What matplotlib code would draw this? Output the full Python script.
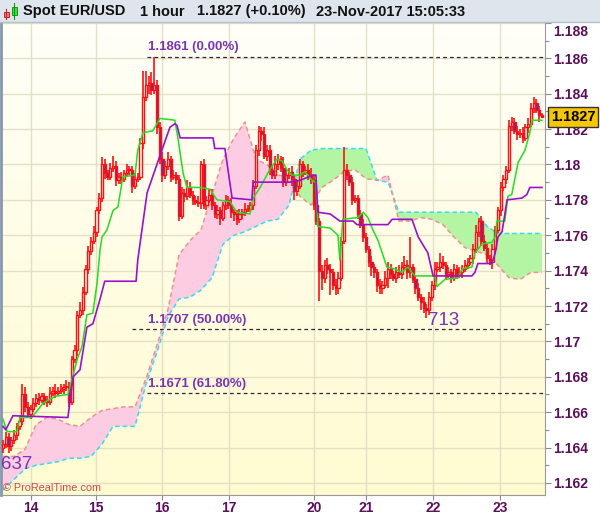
import numpy as np
import matplotlib
matplotlib.use("Agg")
import matplotlib.pyplot as plt
from matplotlib.patches import Rectangle
from matplotlib.lines import Line2D
from matplotlib.colors import LinearSegmentedColormap
from matplotlib.transforms import ScaledTranslation

plt.rcParams['font.family'] = ['Liberation Sans', 'DejaVu Sans']

# hourly closes, EUR/USD (bar 0 = 13-Nov 14:00)
first_open = 1.1640
closes = np.array([
    1.1642, 1.1646, 1.1641, 1.1644, 1.1647, 1.1652, 1.1655, 1.1670, 1.1663, 1.1659,
    1.1662, 1.1665, 1.1668, 1.1667, 1.1669, 1.1666, 1.1666, 1.1671, 1.1672, 1.1671,
    1.1672, 1.1673, 1.1674, 1.1675, 1.1666, 1.1690, 1.1695, 1.1715, 1.1718, 1.1728,
    1.1741, 1.1751, 1.1757, 1.1762, 1.1774, 1.1781, 1.1800, 1.1795, 1.1793, 1.1798,
    1.1799, 1.1791, 1.1793, 1.1792, 1.1795, 1.1797, 1.1797, 1.1788, 1.1792, 1.1793,
    1.1812, 1.1838, 1.1845, 1.1846, 1.1842, 1.1845, 1.1821, 1.1803, 1.1794, 1.1799,
    1.1803, 1.1793, 1.1794, 1.1792, 1.1771, 1.1784, 1.1782, 1.1787, 1.1783, 1.1780,
    1.1779, 1.1778, 1.1800, 1.1777, 1.1780, 1.1783, 1.1777, 1.1772, 1.1774, 1.1770,
    1.1777, 1.1780, 1.1777, 1.1773, 1.1772, 1.1769, 1.1772, 1.1773, 1.1775, 1.1775,
    1.1777, 1.1788, 1.1808, 1.1819, 1.1817, 1.1805, 1.1808, 1.1797, 1.1794, 1.1800,
    1.1803, 1.1798, 1.1790, 1.1794, 1.1796, 1.1792, 1.1785, 1.1788, 1.1800, 1.1796,
    1.1797, 1.1794, 1.1791, 1.1777, 1.1768, 1.1740, 1.1736, 1.1743, 1.1741, 1.1739,
    1.1732, 1.1730, 1.1736, 1.1757, 1.1797, 1.1794, 1.1790, 1.1780, 1.1781, 1.1772,
    1.1766, 1.1759, 1.1752, 1.1745, 1.1742, 1.1739, 1.1732, 1.1730, 1.1732, 1.1736,
    1.1741, 1.1738, 1.1736, 1.1739, 1.1738, 1.1742, 1.1743, 1.1739, 1.1742, 1.1735,
    1.1730, 1.1725, 1.1722, 1.1719, 1.1718, 1.1725, 1.1732, 1.1741, 1.1742, 1.1745,
    1.1743, 1.1738, 1.1739, 1.1736, 1.1741, 1.1738, 1.1739, 1.1741, 1.1743, 1.1745,
    1.1747, 1.1752, 1.1762, 1.1768, 1.1757, 1.1753, 1.1747, 1.1745, 1.1752, 1.1763,
    1.1774, 1.1787, 1.1792, 1.1797, 1.1822, 1.1824, 1.1819, 1.1817, 1.1818, 1.1815,
    1.1821, 1.1823, 1.1832, 1.1835, 1.1831, 1.1828, 1.1827,
])
# wick lengths in pips above the body / below the body
up_wick = np.array([
    2, 3, 2, 2, 3, 2, 3, 6, 4, 3,  2, 3, 2, 3, 2, 2, 3, 3, 2, 4,
    2, 3, 2, 3, 2, 2, 3, 2, 4, 3,  2, 3, 2, 3, 2, 3, 4, 3, 2, 3,
    6, 3, 2, 3, 2, 3, 2, 2, 3, 2,  3, 15, 8, 4, 6, 16, 3, 3, 4, 3,
    4, 2, 3, 2, 2, 3, 2, 4, 3, 2,  2, 3, 2, 3, 2, 3, 3, 2, 3, 2,
    2, 3, 2, 4, 2, 2, 3, 2, 3, 2,  2, 3, 3, 3, 2, 4, 3, 3, 2, 5,
    3, 2, 6, 3, 2, 3, 2, 3, 3, 2,  2, 3, 4, 3, 2, 2, 3, 3, 4, 3,
    2, 3, 3, 2, 13, 3, 2, 3, 2, 2, 2, 3, 2, 2, 3, 2, 2, 3, 2, 4,
    4, 3, 2, 3, 4, 3, 5, 3, 17, 2, 2, 3, 2, 3, 2, 3, 2, 4, 3, 5,
    3, 2, 3, 2, 3, 2, 3, 2, 3, 2,  2, 3, 4, 2, 3, 3, 2, 2, 3, 2,
    2, 3, 2, 2, 3, 3, 2, 3, 2, 3,  2, 3, 3, 3, 2, 2, 1,
])
dn_wick = np.array([
    3, 2, 4, 3, 2, 3, 2, 2, 3, 2,  3, 2, 2, 3, 2, 2, 3, 2, 2, 3,
    2, 2, 3, 2, 3, 2, 2, 3, 2, 3,  2, 3, 2, 2, 3, 2, 2, 3, 2, 2,
    2, 3, 2, 3, 2, 2, 3, 4, 2, 2,  2, 3, 2, 5, 3, 2, 4, 3, 4, 2,
    2, 3, 2, 3, 3, 2, 3, 2, 2, 3,  2, 2, 3, 2, 3, 2, 3, 2, 3, 4,
    2, 3, 2, 3, 4, 3, 2, 3, 2, 2,  2, 3, 2, 3, 4, 2, 3, 3, 2, 2,
    3, 2, 3, 2, 2, 4, 5, 3, 2, 3,  2, 3, 2, 3, 2, 17, 7, 3, 3, 13,
    3, 4, 3, 2, 2, 3, 2, 3, 2, 3,  2, 3, 2, 3, 5, 3, 4, 3, 3, 2,
    6, 3, 2, 3, 2, 3, 2, 4, 3, 2,  3, 2, 4, 3, 5, 3, 2, 3, 2, 3,
    2, 3, 2, 3, 2, 3, 2, 3, 2, 2,  2, 3, 2, 3, 3, 2, 3, 2, 4, 2,
    2, 3, 2, 3, 2, 3, 2, 3, 2, 3,  2, 3, 2, 3, 2, 4, 1,
])

# Ichimoku lines (bar index, price)
tenkan_x = [0, 1.5, 5, 6.2, 10.5, 14.5, 19, 23.6, 27, 28.7, 30.5, 32.7, 34.2, 35.3, 36, 37.8,
            40, 41.8, 43.6, 48, 49, 50.9, 54.5, 56, 57, 62.5, 63.6, 65.5, 66.9, 68.7, 71.6,
            75.3, 77.8, 82.5, 85, 89.8, 91, 93.5, 97, 99.6, 101.5, 103.3, 105, 108, 109.8,
            112.4, 113.8, 114.5, 119, 121.8, 122.5, 123.6, 129, 131, 132.7, 134.5, 136.4,
            139.6, 142.5, 145, 147.3, 148.7, 149.8, 157, 157.8, 160.7, 165.5, 167, 170.5,
            171.6, 174.2, 177.8, 179, 179.6, 182.5, 183.6, 185, 187.3, 189.8, 191.6, 192.4, 196]
tenkan_y = [1.1656, 1.1649, 1.1649, 1.1657, 1.1657, 1.1665, 1.1669, 1.1670, 1.1690, 1.1697,
            1.1715, 1.1716, 1.1733, 1.1752, 1.1759, 1.1763, 1.1774, 1.1776, 1.1793, 1.1794,
            1.1808, 1.1818, 1.1819, 1.1823, 1.1826, 1.1825, 1.1815, 1.1795, 1.1787, 1.1787,
            1.1787, 1.1786, 1.1780, 1.1779, 1.1773, 1.1772, 1.1781, 1.1787, 1.1797, 1.1803,
            1.1802, 1.1797, 1.1794, 1.1794, 1.1796, 1.1791, 1.1790, 1.1765, 1.1764, 1.1760,
            1.1746, 1.1769, 1.1770, 1.1773, 1.1770, 1.1763, 1.1757, 1.1742, 1.1741, 1.1739,
            1.1742, 1.1739, 1.1737, 1.1737, 1.1731, 1.1735, 1.1736, 1.1741, 1.1742, 1.1750,
            1.1755, 1.1756, 1.1759, 1.1768, 1.1768, 1.1782, 1.1783, 1.1801, 1.1808, 1.1818,
            1.1825, 1.1825]
kijun_x = [0, 1, 3.6, 23.6, 25.5, 28, 30.5, 32.7, 35.3, 37, 48.4, 49, 52.4, 55.3, 58.2, 60.7,
           62.5, 63.3, 64.4, 76.4, 77, 80.7, 83.3, 90.5, 91, 104.4, 108, 112.7, 113.8, 114.5,
           119, 122.5, 127.3, 128.7, 140, 141.5, 148.7, 151, 154.5, 156.4, 170.5, 171.6, 172.7,
           177.8, 179, 180, 181.5, 183.3, 188.7, 190.5, 191.6, 196]
kijun_y = [1.1652, 1.1650, 1.1658, 1.1657, 1.1680, 1.1684, 1.1708, 1.1710, 1.1724, 1.1734,
           1.1734, 1.1746, 1.1784, 1.1797, 1.1810, 1.1821, 1.1823, 1.1822, 1.1815, 1.1815,
           1.1809, 1.1809, 1.1781, 1.1780, 1.1790, 1.1790, 1.1791, 1.1794, 1.1794, 1.1773,
           1.1772, 1.1768, 1.1768, 1.1766, 1.1766, 1.1769, 1.1769, 1.1759, 1.1750, 1.1737,
           1.1737, 1.1739, 1.1744, 1.1744, 1.1750, 1.1759, 1.1762, 1.1780, 1.1781, 1.1783,
           1.1787, 1.1787]

# cloud, read every 4 bars
cloud_x = list(range(0, 197, 4))
span_a = [1.1616, 1.1622, 1.1628, 1.1630, 1.1631, 1.1632, 1.1634, 1.1634, 1.1635, 1.1642,
          1.1652, 1.1652, 1.1652, 1.1676, 1.1694, 1.1714, 1.1724, 1.1725, 1.1729, 1.1736,
          1.1755, 1.1760, 1.1762, 1.1765, 1.1768, 1.1769, 1.1777, 1.1803, 1.1808, 1.1809,
          1.1809, 1.1809, 1.1809, 1.1809, 1.1791, 1.1790, 1.1773, 1.1773, 1.1773, 1.1773,
          1.1773, 1.1773, 1.1773, 1.1773, 1.1765, 1.1761, 1.1761, 1.1761, 1.1761, 1.1761]
span_b = [1.1635, 1.1635, 1.1639, 1.1653, 1.1657, 1.1656, 1.1653, 1.1652, 1.1657, 1.1661,
          1.1662, 1.1663, 1.1663, 1.1679, 1.1698, 1.1718, 1.1749, 1.1757, 1.1763, 1.1783,
          1.1803, 1.1815, 1.1824, 1.1803, 1.1800, 1.1794, 1.1793, 1.1782, 1.1777, 1.1787,
          1.1791, 1.1796, 1.1797, 1.1792, 1.1791, 1.1794, 1.1768, 1.1768, 1.1770, 1.1769,
          1.1766, 1.1759, 1.1753, 1.1751, 1.1749, 1.1743, 1.1736, 1.1735, 1.1739, 1.1739]

# fibonacci retracement levels
fib_levels = [1.1861, 1.1707, 1.1671]
fib_labels = ["1.1861 (0.00%)", "1.1707 (50.00%)", "1.1671 (61.80%)"]
fib_start = [52.4, 47.0, 52.4]

day_pos = [10.2, 33.8, 57.8, 82.2, 113.1, 132.0, 156.4, 180.7]
day_labels = ["14", "15", "16", "17", "20", "21", "22", "23"]
ytick_vals = [1.162, 1.164, 1.166, 1.168, 1.170, 1.172, 1.174, 1.176, 1.178,
              1.180, 1.182, 1.184, 1.186, 1.188]
ytick_labels = ["1.162", "1.164", "1.166", "1.168", "1.17", "1.172", "1.174", "1.176",
                "1.178", "1.18", "1.182", "1.184", "1.186", "1.188"]
last_price = "1.1827"

W, H = 600, 519
fig = plt.figure(figsize=(6, 5.19), dpi=100)
fig.patch.set_facecolor("white")


def fx(px):
    return px / W


def fy(py):
    return 1 - py / H


ax = fig.add_axes([fx(1), fy(495), fx(545) - fx(1), fy(22) - fy(495)])
xlim = (-0.73, 197.1)
ylim = (1.16132, 1.18805)
ax.set_xlim(*xlim)
ax.set_ylim(*ylim)

# yellowish background gradient
bg = LinearSegmentedColormap.from_list("bg", ["#FFFFF8", "#FFFBD1"])
ax.imshow(np.linspace(0, 1, 256).reshape(-1, 1), cmap=bg, aspect="auto",
          extent=(xlim[0], xlim[1], ylim[0], ylim[1]), origin="upper", zorder=0)

# cloud
sa = np.array(span_a)
sb = np.array(span_b)
ax.fill_between(cloud_x, sa, sb, where=sa >= sb, interpolate=True,
                color="#B4F5A4", lw=0, zorder=1)
ax.fill_between(cloud_x, sa, sb, where=sb > sa, interpolate=True,
                color="#FCCDE2", lw=0, zorder=1)
ax.plot(cloud_x, sa, color="#33DDEE", lw=1.1, ls=(0, (3, 2)), zorder=2)
ax.plot(cloud_x, sb, color="#F09090", lw=1.1, ls=(0, (3, 2)), zorder=2)

# fib levels
for lvl, lab, x0 in zip(fib_levels, fib_labels, fib_start):
    ax.hlines(lvl, x0, xlim[1], colors="#3A2040", lw=0.9, linestyles=(0, (3, 2.5)), zorder=2)
    ax.text(52.6, lvl + 0.00018, lab, fontsize=9.5, fontweight="bold", color="#7A35B5",
            ha="left", va="bottom", zorder=6)

# candles
idx = np.arange(len(closes))
opens = np.concatenate([[first_open], closes[:-1]])
highs = np.maximum(opens, closes) + up_wick * 1e-4
lows = np.minimum(opens, closes) - dn_wick * 1e-4
ax.vlines(idx, lows, highs, colors="#FF1010", lw=1.2, zorder=3)
body = np.abs(closes - opens)
body = np.where(body < 0.00004, 0.00004, body)
bottom = np.minimum(opens, closes)
bull = closes >= opens
ax.bar(idx[bull], body[bull], bottom=bottom[bull], width=0.8,
       facecolor="#FFFDF0", edgecolor="#FF1010", lw=1.0, zorder=3.5)
ax.bar(idx[~bull], body[~bull], bottom=bottom[~bull], width=0.8,
       facecolor="#6E2A9E", edgecolor="#FF1010", lw=1.0, zorder=3.5)

# tenkan / kijun
ax.plot(tenkan_x, tenkan_y, color="#22DD22", lw=1.1, zorder=4)
ax.plot(kijun_x, kijun_y, color="#9B10CC", lw=1.2, zorder=4)

# extreme labels
ax.text(154.5, 1.17165, "713", fontsize=13.5, color="#7A35B5", ha="left", va="top", zorder=6)
ax.text(-0.6, 1.16350, "637", fontsize=13.5, color="#7A35B5", ha="left", va="top", zorder=6)

# axes styling
ax.yaxis.tick_right()
ax.set_yticks(ytick_vals)
ax.set_yticklabels(ytick_labels, fontsize=10, fontweight="bold", color="#5C0F5C")
ax.set_yticks([v + 0.001 for v in ytick_vals[:-1]], minor=True)
ax.set_xticks(day_pos)
ax.set_xticklabels(day_labels, fontsize=10, fontweight="bold", color="#5C0F5C")
ax.tick_params(axis="y", which="major", length=4.3, width=0.8, color="#8A8A8A", pad=1.5)
ax.tick_params(axis="y", which="minor", length=3, width=0.8, color="#8A8A8A")
ax.tick_params(axis="x", which="major", length=3.6, width=0.8, color="#8A8A8A", pad=1)
ax.grid(True, which="major", color="#E4E0C6", lw=1, zorder=0.5)
ax.set_axisbelow(True)
ax.spines["top"].set_visible(False)
ax.spines["left"].set_color("#8497AE")
ax.spines["left"].set_linewidth(2)
ax.spines["bottom"].set_color("#9A9A9A")
ax.spines["right"].set_color("#9A9A9A")

# top label sits under the header, push it down a bit
top_lbl = ax.get_yticklabels()[-1]
top_lbl.set_transform(top_lbl.get_transform() + ScaledTranslation(0, -0.08, fig.dpi_scale_trans))

# header strip
fig.patches.append(Rectangle((0, fy(22)), 1, 22 / H, transform=fig.transFigure,
                             fc="#DEE5EC", ec="none", zorder=0))
fig.lines.append(Line2D([0, 1], [fy(22), fy(22)], transform=fig.transFigure,
                        color="#B5C0CC", lw=1))
# tiny candle icon
fig.lines.append(Line2D([fx(6.2), fx(6.2)], [fy(9), fy(19)], transform=fig.transFigure,
                        color="#CC2020", lw=0.8))
fig.patches.append(Rectangle((fx(3.5), fy(16.7)), fx(5.5), 5 / H, transform=fig.transFigure,
                             fc="#F08080", ec="#CC2020", lw=0.7))
fig.lines.append(Line2D([fx(14.2), fx(14.2)], [fy(3), fy(19)], transform=fig.transFigure,
                        color="#119911", lw=0.8))
fig.patches.append(Rectangle((fx(11.7), fy(15)), fx(5), 8.3 / H, transform=fig.transFigure,
                             fc="#44DD44", ec="#119911", lw=0.7))

hdr_y = fy(11.5)
fig.text(fx(23), hdr_y, "Spot EUR/USD", fontsize=10.5, fontweight="bold", va="center", color="#111111")
fig.text(fx(140), hdr_y, "1 hour", fontsize=10.5, fontweight="bold", va="center", color="#111111")
fig.text(fx(197), hdr_y, "1.1827 (+0.10%)", fontsize=10.5, fontweight="bold", va="center", color="#111111")
fig.text(fx(316), hdr_y, "23-Nov-2017 15:05:33", fontsize=10.5, fontweight="bold", va="center", color="#111111")

fig.text(fx(3), fy(488), "\u00a9 ProRealTime.com", fontsize=7.8, color="#D04848", va="center", zorder=6)

# last price box
fig.text(fx(573), fy(117), last_price, ha="center", va="center", fontsize=10.5, fontweight="bold",
         color="black", zorder=10,
         bbox=dict(boxstyle="square,pad=0.22", fc="#F6C700", ec="#333333", lw=1))

fig.savefig("out.png", dpi=100)
